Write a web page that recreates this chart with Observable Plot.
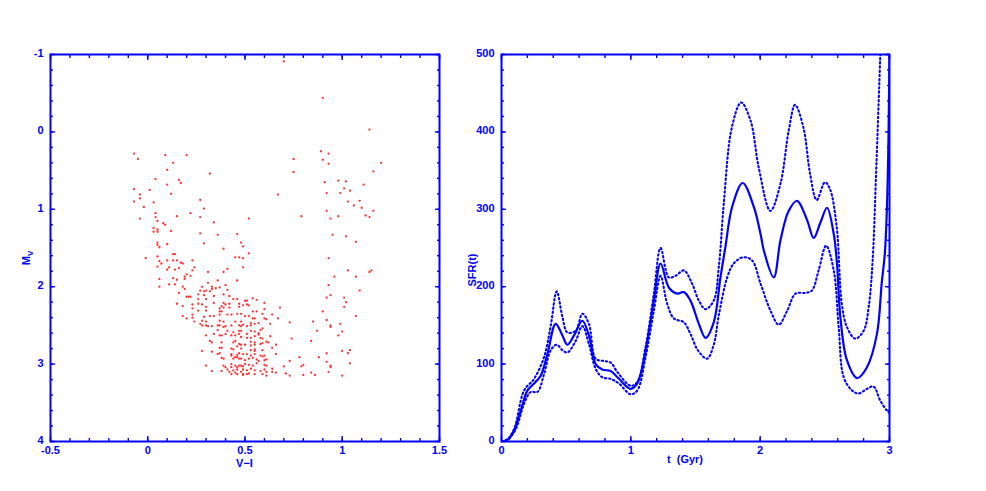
<!DOCTYPE html>
<html><head><meta charset="utf-8">
<script src="https://cdn.jsdelivr.net/npm/d3@7"></script>
<script src="https://cdn.jsdelivr.net/npm/@observablehq/plot@0.6"></script>
<style>
body{margin:0;background:#fff}
#wrap{position:relative;width:986px;height:491px;overflow:hidden;background:#fff}
#wrap svg{position:absolute;top:0}
</style></head><body><div id="wrap"></div>
<script>
// ---------- Colour–magnitude diagram (V−I, M_V) ----------
const cmdStars = [
[-0.07,0.28],[-0.05,0.35],[0.09,0.30],[0.20,0.30],[0.13,0.40],[0.10,0.49],[0.32,0.54],[0.04,0.61],[0.16,0.62],[0.17,0.66],[0.10,0.68],[-0.07,0.74],[0.01,0.75],[-0.04,0.81],[0.12,0.80],[-0.04,0.86],[0.27,0.88],[-0.07,0.90],[0.03,0.91],[-0.02,0.97],[0.29,0.99],[0.04,1.05],[0.22,1.05],[0.15,1.09],[0.04,1.10],[-0.04,1.12],[0.27,1.10],[0.52,1.12],[0.05,1.15],[0.08,1.18],[0.09,1.20],[0.34,1.17],[0.03,1.24],[0.05,1.26],[0.12,1.28],[0.03,1.29],[0.05,1.29],[0.27,1.31],[0.36,1.33],[0.46,1.32],[0.05,1.43],[0.10,1.45],[0.29,1.44],[0.48,1.43],[0.05,1.46],[0.49,1.48],[0.06,1.49],[0.39,1.51],[0.52,1.57],[0.13,1.58],[0.14,1.58],[-0.01,1.63],[0.05,1.61],[0.45,1.62],[0.47,1.62],[0.49,1.63],
[0.70,-0.91],[0.90,-0.44],[1.14,-0.03],[0.89,0.25],[0.93,0.28],[0.75,0.35],[0.90,0.36],[0.93,0.41],[1.20,0.40],[0.75,0.52],[1.16,0.51],[0.98,0.63],[1.02,0.64],[0.91,0.65],[1.01,0.73],[1.04,0.76],[0.92,0.79],[0.99,0.79],[1.11,0.68],[0.67,0.81],[1.09,0.89],[1.03,0.90],[1.06,0.95],[1.10,0.98],[0.92,1.02],[1.16,1.02],[1.12,1.08],[1.14,1.10],[0.98,1.09],[0.94,1.12],[0.79,1.09],[0.95,1.33],[1.02,1.35],[1.07,1.42],[0.93,1.63],
[1.03,1.79],[1.07,1.87],[0.96,1.87],[1.15,1.79],[1.14,1.81],[0.93,1.98],[1.09,2.05],[0.94,2.11],[1.01,2.14],[0.92,2.14],[1.02,2.20],[1.01,2.26],[0.68,2.27],[0.90,2.32],[1.07,2.38],[0.67,2.41],[0.85,2.45],[0.92,2.43],[0.99,2.48],[0.94,2.50],[0.94,2.52],[0.73,2.46],[0.87,2.57],[1.00,2.58],[0.98,2.63],[0.74,2.67],[0.84,2.70],[1.00,2.83],[1.03,2.86],[1.04,2.82],[0.92,2.86],[0.78,2.91],[0.88,2.91],[0.73,2.96],[0.92,2.97],[1.04,2.99],[0.70,3.03],[0.79,3.03],[0.80,3.01],[0.94,3.02],[0.94,3.04],[0.93,3.10],[0.84,3.11],[0.86,3.14],[0.73,3.15],[0.80,3.14],[1.00,3.15],[0.71,3.12],[0.66,3.11],[0.64,3.06],[0.64,3.10],[0.66,2.87],[0.64,2.79],[0.66,2.75],[0.63,2.64],[0.63,2.48],[0.64,2.36],[0.60,2.21],[0.60,2.29],[0.61,3.15],
[0.49,1.75],[0.51,2.18],[0.54,2.15],[0.56,2.17],[0.49,2.24],[0.51,2.23],[0.52,2.24],[0.54,2.32],[0.56,2.32],[0.59,2.35],[0.48,2.35],[0.50,2.38],[0.52,2.38],[0.54,2.41],[0.55,2.41],[0.60,2.41],[0.61,2.42],[0.53,2.47],[0.55,2.48],[0.57,2.47],[0.48,2.51],[0.51,2.51],[0.53,2.50],[0.59,2.54],[0.53,2.57],[0.55,2.58],[0.58,2.56],[0.51,2.61],[0.57,2.60],[0.57,2.62],[0.48,2.65],[0.51,2.66],[0.53,2.66],[0.55,2.64],[0.58,2.66],[0.59,2.67],[0.53,2.71],[0.55,2.72],[0.61,2.71],[0.62,2.72],[0.50,2.75],[0.53,2.76],[0.55,2.75],[0.58,2.74],[0.59,2.73],[0.53,2.82],[0.55,2.83],[0.55,2.81],[0.59,2.82],[0.51,2.87],[0.53,2.89],[0.55,2.87],[0.58,2.89],[0.59,2.90],[0.60,2.89],[0.48,2.93],[0.50,2.95],[0.52,2.93],[0.54,2.92],[0.56,2.94],[0.57,2.96],[0.60,2.95],[0.61,2.94],[0.48,3.02],[0.50,3.00],[0.52,3.01],[0.54,3.02],[0.56,2.99],[0.60,3.01],[0.61,3.02],[0.49,3.07],[0.51,3.08],[0.53,3.06],[0.55,3.08],[0.58,3.09],[0.60,3.07],[0.61,3.10],[0.49,3.13],[0.52,3.12],[0.55,3.13],[0.59,3.13],
[0.06,1.67],[0.07,1.70],[0.10,1.66],[0.13,1.66],[0.15,1.66],[0.17,1.69],[0.18,1.70],[0.23,1.66],[0.05,1.74],[0.11,1.75],[0.10,1.78],[0.14,1.78],[0.16,1.76],[0.23,1.79],[0.24,1.75],[0.31,1.81],[0.39,1.81],[0.41,1.77],[0.06,1.90],[0.13,1.89],[0.15,1.91],[0.19,1.87],[0.19,1.90],[0.20,1.84],[0.22,1.86],[0.11,1.97],[0.14,1.97],[0.06,2.00],[0.18,2.00],[0.19,2.03],[0.28,2.00],[0.31,1.95],[0.33,2.00],[0.33,2.03],[0.35,2.02],[0.37,2.01],[0.36,1.92],[0.40,1.98],[0.41,2.04],[0.46,1.92],[0.27,2.05],[0.29,2.06],[0.30,2.05],[0.32,2.06],[0.16,2.08],[0.20,2.13],[0.21,2.13],[0.22,2.13],[0.26,2.10],[0.29,2.11],[0.34,2.12],[0.39,2.10],[0.42,2.12],[0.44,2.16],[0.46,2.16],[0.26,2.16],[0.30,2.16],[0.23,2.23],[0.26,2.22],[0.15,2.22],[0.18,2.25],[0.23,2.28],[0.28,2.23],[0.30,2.26],[0.34,2.21],[0.38,2.25],[0.39,2.21],[0.40,2.23],[0.42,2.22],[0.47,2.22],[0.50,2.18],[0.37,2.28],[0.39,2.27],[0.42,2.27],[0.47,2.26],[0.26,2.31],[0.30,2.31],[0.37,2.32],[0.38,2.32],[0.18,2.38],[0.20,2.41],[0.23,2.36],[0.23,2.40],[0.29,2.39],[0.32,2.38],[0.34,2.38],[0.37,2.36],[0.41,2.36],[0.43,2.36],[0.46,2.35],[0.24,2.45],[0.28,2.44],[0.30,2.45],[0.37,2.44],[0.39,2.45],[0.45,2.45],[0.48,2.45],[0.27,2.48],[0.28,2.50],[0.30,2.50],[0.31,2.51],[0.33,2.51],[0.36,2.50],[0.37,2.50],[0.39,2.52],[0.40,2.51],[0.43,2.50],[0.47,2.50],[0.49,2.49],[0.36,2.56],[0.41,2.57],[0.44,2.59],[0.47,2.57],[0.48,2.57],[0.30,2.63],[0.34,2.61],[0.37,2.63],[0.38,2.63],[0.40,2.61],[0.43,2.63],[0.45,2.63],[0.47,2.61],[0.32,2.70],[0.33,2.72],[0.38,2.72],[0.44,2.72],[0.45,2.70],[0.47,2.74],[0.48,2.75],[0.37,2.79],[0.38,2.79],[0.43,2.80],[0.44,2.81],[0.46,2.77],[0.48,2.80],[0.28,2.83],[0.33,2.84],[0.36,2.87],[0.37,2.86],[0.43,2.87],[0.43,2.89],[0.46,2.88],[0.47,2.86],[0.49,2.87],[0.38,2.92],[0.39,2.93],[0.44,2.93],[0.45,2.91],[0.46,2.91],[0.47,2.93],[0.30,3.02],[0.39,3.02],[0.40,3.04],[0.43,3.00],[0.43,3.04],[0.45,3.02],[0.46,3.04],[0.47,3.02],[0.49,3.03],[0.33,3.09],[0.38,3.09],[0.41,3.07],[0.42,3.10],[0.44,3.08],[0.45,3.11],[0.46,3.07],[0.48,3.10],[0.43,3.13],[0.46,3.13],[0.49,3.14],[0.51,3.13]
];
const cmdXTicks = [-0.5, 0, 0.5, 1, 1.5];
const cmdXMinor = d3.range(-0.5, 1.5001, 0.1).map(v => +v.toFixed(2));
const cmdYTicks = [-1, 0, 1, 2, 3, 4];
const cmdYMinor = d3.range(-1, 4.0001, 0.2).map(v => +v.toFixed(2));

// ---------- Star formation rate history ----------
const sfrBest = [[0,0],[0.046,2],[0.097,14],[0.149,40],[0.201,66],[0.252,75],[0.303,85],[0.355,113],[0.419,152],[0.471,137],[0.509,125],[0.561,137],[0.625,156],[0.676,137],[0.728,100],[0.779,93],[0.844,91],[0.908,81],[0.998,68],[1.05,75],[1.114,118],[1.178,182],[1.23,230],[1.294,199],[1.359,191],[1.41,193],[1.461,182],[1.526,152],[1.577,134],[1.641,154],[1.693,212],[1.731,251],[1.783,303],[1.865,334],[1.951,303],[2.003,268],[2.028,247],[2.105,212],[2.157,260],[2.221,298],[2.286,311],[2.363,286],[2.414,263],[2.466,283],[2.517,302],[2.569,268],[2.594,230],[2.62,161],[2.671,105],[2.749,82],[2.826,96],[2.903,139],[2.94,205],[2.965,245],[2.985,330],[3.0,505]];
const sfrUpper = [[0,0],[0.046,3],[0.097,16],[0.175,66],[0.252,81],[0.329,109],[0.381,150],[0.427,194],[0.471,161],[0.509,141],[0.574,143],[0.625,165],[0.676,152],[0.728,107],[0.792,104],[0.844,102],[0.895,90],[0.998,72],[1.05,77],[1.114,122],[1.178,191],[1.23,250],[1.294,212],[1.346,214],[1.41,221],[1.474,204],[1.526,182],[1.577,171],[1.641,182],[1.68,225],[1.72,310],[1.78,405],[1.853,438],[1.925,415],[1.989,354],[2.079,298],[2.157,333],[2.221,402],[2.27,435],[2.334,406],[2.386,346],[2.437,312],[2.501,335],[2.54,326],[2.592,277],[2.631,178],[2.671,148],[2.735,133],[2.8,143],[2.84,175],[2.87,235],[2.895,340],[2.93,505]];
const sfrLower = [[0,0],[0.046,2],[0.11,16],[0.175,49],[0.226,64],[0.278,64],[0.329,87],[0.381,118],[0.427,125],[0.471,118],[0.509,115],[0.574,130],[0.625,149],[0.676,126],[0.728,94],[0.779,83],[0.844,81],[0.908,75],[0.998,61],[1.05,66],[1.114,109],[1.178,169],[1.23,214],[1.281,178],[1.333,159],[1.41,154],[1.461,139],[1.518,118],[1.59,107],[1.641,125],[1.68,163],[1.745,212],[1.796,230],[1.868,238],[1.937,234],[2.003,204],[2.08,169],[2.144,151],[2.209,169],[2.273,191],[2.35,192],[2.4,195],[2.452,221],[2.51,253],[2.569,221],[2.607,148],[2.646,83],[2.71,66],[2.76,62],[2.826,68],[2.877,71],[2.928,53],[2.98,40],[3.0,37]];
const sfrXTicks = [0, 1, 2, 3];
const sfrXMinor = d3.range(0, 3.0001, 0.2).map(v => +v.toFixed(2));
const sfrYTicks = [0, 100, 200, 300, 400, 500];
const sfrYMinor = d3.range(0, 500.1, 20);

const BLUE = "#0000ff";
const FONT = "'Liberation Sans', Arial, Helvetica, sans-serif";
const fmt = d => (d < 0 ? "-" : "") + String(Math.abs(d));

function frameAxes(xMaj, xMin, yMaj, yMin) {
  const t = {color: BLUE, strokeWidth: 1.4, tickFormat: () => "", label: null};
  return [
    Plot.axisX({...t, ticks: xMin, anchor: "bottom", tickSize: -3}),
    Plot.axisX({...t, ticks: xMin, anchor: "top", tickSize: -3}),
    Plot.axisX({...t, ticks: xMaj, anchor: "bottom", tickSize: -5}),
    Plot.axisX({...t, ticks: xMaj, anchor: "top", tickSize: -5}),
    Plot.axisY({...t, ticks: yMin, anchor: "left", tickSize: -3}),
    Plot.axisY({...t, ticks: yMin, anchor: "right", tickSize: -3}),
    Plot.axisY({...t, ticks: yMaj, anchor: "left", tickSize: -5}),
    Plot.axisY({...t, ticks: yMaj, anchor: "right", tickSize: -5}),
    Plot.axisX({ticks: xMaj, anchor: "bottom", tickSize: 0, tickPadding: 5, tickFormat: fmt, color: BLUE, label: null}),
    Plot.axisY({ticks: yMaj, anchor: "left", tickSize: 0, tickPadding: 7, tickFormat: fmt, color: BLUE, label: null, dy: -1}),
    Plot.frame({stroke: BLUE, strokeWidth: 2})
  ];
}
const style = {fontFamily: FONT, fontSize: "11px", fontWeight: "bold", color: BLUE, background: "transparent"};

const wrap = document.getElementById("wrap");

// Left panel
const L = {w: 470, ml: 50, mr: 31, mt: 54, mb: 50};
const left = Plot.plot({
  width: L.w, height: 491,
  marginLeft: L.ml, marginRight: L.mr, marginTop: L.mt, marginBottom: L.mb,
  style,
  x: {domain: [-0.5, 1.5]},
  y: {domain: [4, -1]},
  marks: [
    Plot.dot(cmdStars, {x: d => d[0], y: d => d[1], r: 1.15, fill: "#ff1a1a", fillOpacity: 0.9}),
    ...frameAxes(cmdXTicks, cmdXMinor, cmdYTicks, cmdYMinor)
  ]
});
left.style.left = "0px";
wrap.appendChild(left);
{
  const s = d3.select(left);
  const cx = L.ml + (L.w - L.ml - L.mr) / 2;
  s.append("text").attr("x", cx).attr("y", 464).attr("text-anchor", "middle")
    .attr("dominant-baseline", "middle").attr("fill", BLUE).text("V\u2212I");
  const t = s.append("text").attr("transform", "translate(30,258) rotate(-90)")
    .attr("text-anchor", "middle").attr("fill", BLUE);
  t.append("tspan").text("M");
  t.append("tspan").attr("font-size", "8px").attr("dy", "3").text("V");
}

// Right panel
const R = {x0: 455, w: 531, ml: 46, mr: 97, mt: 54, mb: 50};
const dotted = {stroke: BLUE, strokeWidth: 2.1, strokeDasharray: "1.4,2.8", curve: "catmull-rom", clip: true};
const right = Plot.plot({
  width: R.w, height: 491,
  marginLeft: R.ml, marginRight: R.mr, marginTop: R.mt, marginBottom: R.mb,
  style,
  x: {domain: [0, 3]},
  y: {domain: [0, 500]},
  marks: [
    Plot.line(sfrUpper, {x: d => d[0], y: d => d[1], ...dotted}),
    Plot.line(sfrLower, {x: d => d[0], y: d => d[1], ...dotted}),
    Plot.line(sfrBest, {x: d => d[0], y: d => d[1], stroke: BLUE, strokeWidth: 2.2, curve: "catmull-rom", clip: true}),
    ...frameAxes(sfrXTicks, sfrXMinor, sfrYTicks, sfrYMinor)
  ]
});
right.style.left = R.x0 + "px";
wrap.appendChild(right);
{
  const s = d3.select(right);
  s.append("text").attr("x", 685 - R.x0).attr("y", 460).attr("text-anchor", "middle")
    .attr("dominant-baseline", "middle").attr("fill", BLUE).attr("xml:space", "preserve").text("t  (Gyr)");
  s.append("text").attr("transform", `translate(${476 - R.x0},270) rotate(-90)`)
    .attr("text-anchor", "middle").attr("fill", BLUE).text("SFR(t)");
}
</script>
</body></html>
